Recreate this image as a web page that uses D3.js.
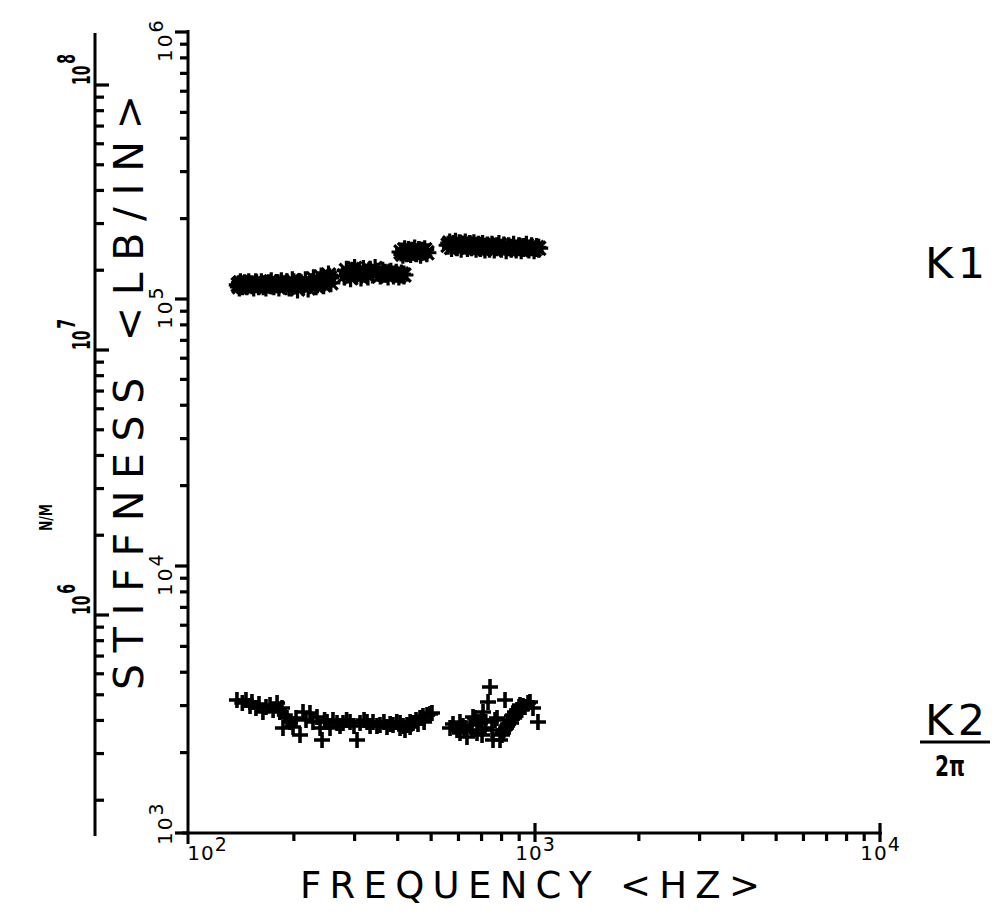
<!DOCTYPE html>
<html><head><meta charset="utf-8">
<script src="https://cdn.jsdelivr.net/npm/d3@7/dist/d3.min.js"></script>
<style>body{margin:0;background:#fff}svg{display:block}</style>
</head><body>
<svg id="chart" width="997" height="920"></svg>
<script>
// ---------- DATA ----------
// K1 stiffness (lb/in) vs frequency (Hz)
const k1Freq = [138,140,142,144,146,148,151,153,156,158,161,164,166,169,172,175,178,181,184,188,191,194,198,201,205,208,212,216,220,224,228,232,236,240,244,248,252,256,
  139,147,155,163,171,180,190,200,210,222,234,246,254,
  280,284,288,292,296,300,304,309,313,318,323,328,333,338,344,350,356,362,368,375,382,389,396,403,410,417,
  409,414,419,424,430,436,442,448,454,460,466,473,479,486,
  560,566,573,580,588,595,603,611,619,628,637,646,655,665,675,685,695,705,716,727,738,750,762,774,786,799,812,825,839,853,867,882,897,912,928,944,960,977,994,1011,1025];
const k1Stiff = [1.13e5,1.15e5,1.12e5,1.14e5,1.12e5,1.15e5,1.13e5,1.11e5,1.14e5,1.12e5,1.15e5,1.13e5,1.11e5,1.14e5,1.16e5,1.12e5,1.14e5,1.11e5,1.16e5,1.13e5,1.15e5,1.11e5,1.17e5,1.13e5,1.09e5,1.15e5,1.12e5,1.17e5,1.10e5,1.14e5,1.19e5,1.12e5,1.16e5,1.21e5,1.13e5,1.18e5,1.23e5,1.15e5,
  1.11e5,1.13e5,1.15e5,1.12e5,1.13e5,1.14e5,1.12e5,1.15e5,1.14e5,1.13e5,1.14e5,1.16e5,1.20e5,
  1.22e5,1.28e5,1.24e5,1.20e5,1.27e5,1.30e5,1.23e5,1.26e5,1.21e5,1.29e5,1.25e5,1.22e5,1.28e5,1.24e5,1.30e5,1.26e5,1.23e5,1.27e5,1.25e5,1.22e5,1.26e5,1.23e5,1.25e5,1.22e5,1.24e5,1.23e5,
  1.50e5,1.47e5,1.53e5,1.49e5,1.52e5,1.48e5,1.51e5,1.54e5,1.49e5,1.52e5,1.47e5,1.51e5,1.53e5,1.49e5,
  1.59e5,1.62e5,1.56e5,1.60e5,1.63e5,1.57e5,1.61e5,1.55e5,1.59e5,1.62e5,1.56e5,1.60e5,1.57e5,1.61e5,1.55e5,1.59e5,1.56e5,1.60e5,1.54e5,1.58e5,1.55e5,1.59e5,1.54e5,1.57e5,1.60e5,1.55e5,1.58e5,1.53e5,1.57e5,1.55e5,1.59e5,1.54e5,1.57e5,1.53e5,1.56e5,1.59e5,1.54e5,1.57e5,1.53e5,1.56e5,1.55e5];

// K2/(2*pi) (lb/in) vs frequency (Hz)
const k2Freq = [136.8,141.8,145.3,149.3,151.2,155.3,158.5,162.7,166.1,170.6,174.1,178.8,182.1,184.8,188.3,191.1,195.0,186.0,198.9,202.9,208.4,212.6,216.9,222.7,227.2,233.4,238.2,241.4,245.5,249.6,254.6,259.7,266.8,272.2,277.7,284.4,291.0,298.7,304.9,311.1,319.5,325.9,332.6,339.2,348.2,355.4,364.8,372.4,380.3,387.7,397.6,406.3,406.3,414.6,420,425.6,434.5,434.5,443.1,452.0,458,464.2,473.5,477,486.4,496.2,502.8,
  567.2,578.5,594.1,606.1,618.4,635.1,648.0,656.9,661.2,679.1,683.8,692.8,702.3,706.9,716.5,730.9,740.7,750.6,755.6,765.8,776.1,791.8,802.4,807.8,818.7,824.2,835.2,846.4,857.8,863.6,875.0,886.9,898.6,904.8,923.1,935.5,954.4,967.2,986.7,1020,
  606,670,625,700,720,812,830,852,870,893,915];
const k2Stiff = [3149,3068,3149,2990,3095,2938,3042,2839,2964,3016,2888,3068,2839,2938,2766,2696,2604,2474,2495,2696,2328,2839,2650,2815,2604,2719,2474,2230,2650,2604,2474,2650,2582,2516,2582,2650,2604,2516,2230,2582,2650,2604,2516,2604,2516,2538,2604,2495,2560,2538,2604,2582,2474,2516,2431,2538,2604,2495,2582,2650,2560,2696,2743,2604,2766,2790,2815,
  2474,2560,2431,2368,2516,2289,2538,2431,2719,2368,2604,2582,2328,2839,2474,3095,3523,2431,2230,2650,2696,2230,2328,2368,3149,2474,2560,2650,2743,2766,2839,2888,2964,3016,2990,2964,3068,3095,2938,2604,
  2604,2696,2474,2650,2604,2431,2516,2582,2696,2815,2888];

// tick label exponents
const xTickExp = [2, 3, 4];        // 10^2 .. 10^4 Hz
const yTickExp = [3, 4, 5, 6];     // 10^3 .. 10^6 lb/in
const nmTickExp = [6, 7, 8];       // 10^6 .. 10^8 N/m

// ---------- CHART ----------
const svg = d3.select("#chart");
const x = d3.scaleLog().domain([1e2, 1e4]).range([190, 880]);
const y = d3.scaleLog().domain([1e3, 1e6]).range([833, 32]);
const yNM = d3.scaleLog().domain([1e6, 1e8]).range([615, 85]);
const pow10 = e => Math.pow(10, e);

function minorTicks(lo, hi) {
  const out = [];
  for (let e = Math.floor(Math.log10(lo)); e <= Math.ceil(Math.log10(hi)); e++) {
    for (let m = 2; m <= 9; m++) { const v = m * pow10(e); if (v >= lo * 0.999 && v <= hi * 1.001) out.push(v); }
  }
  return out;
}
// ticks drawn as small rectangles, positions from the scales
function ticks(scale, vals, fixed, len, vertical, w) {
  svg.append("g").selectAll("rect").data(vals).join("rect")
    .attr("x", d => vertical ? Math.min(fixed, fixed + len) : scale(d) - w / 2)
    .attr("y", d => vertical ? scale(d) - w / 2 : Math.min(fixed, fixed + len))
    .attr("width", vertical ? Math.abs(len) : w)
    .attr("height", vertical ? w : Math.abs(len))
    .attr("fill", "#000");
}
function bar(x1, y1, x2, y2) {
  svg.append("rect").attr("x", x1).attr("y", y1).attr("width", x2 - x1).attr("height", y2 - y1).attr("fill", "#000");
}

// Main Y axis (lb/in)
ticks(y, minorTicks(1e3, 1e6), 188, -8, true, 3.2);
ticks(y, yTickExp.map(pow10), 188, -13, true, 3.2);
bar(186.5, 30, 189.5, 844);

// X axis
ticks(x, minorTicks(1e2, 1e4), 833, 8, false, 3.2);
ticks(x, [1e3, 1e4], 823, 19, false, 3.2);
bar(182, 831.5, 882, 834.5);

// N/M axis
ticks(yNM, minorTicks(1.5e5, 1.55e8), 95, 9, true, 3.2);
ticks(yNM, nmTickExp.map(pow10), 95, 14, true, 3.2);
bar(93.5, 33, 96.5, 836);

const FONT = "'DejaVu Sans', sans-serif";

// Main y tick labels (rotated)
yTickExp.forEach(e => {
  const off = e === 3 ? 12 : 30;
  const t = svg.append("text")
    .attr("transform", `translate(172,${y(pow10(e)) + off}) rotate(-90)`)
    .attr("font-family", FONT).attr("font-size", 20).attr("fill", "#000");
  t.append("tspan").attr("letter-spacing", 2).text("10");
  t.append("tspan").attr("dy", -9).attr("font-size", 19).text(String(e));
});

// N/M tick labels (rotated, bold, condensed)
nmTickExp.forEach(e => {
  const t = svg.append("text")
    .attr("transform", `translate(90,${yNM(pow10(e))}) rotate(-90) scale(0.56,1)`)
    .attr("font-family", FONT).attr("font-weight", "bold").attr("font-size", 25).attr("fill", "#000");
  t.append("tspan").text("10");
  t.append("tspan").attr("dy", -15).attr("dx", 3).text(String(e));
});

// X tick labels
xTickExp.forEach((e, i) => {
  const t = svg.append("text")
    .attr("x", x(pow10(e)) + (i === 0 ? 17 : 0)).attr("y", 860)
    .attr("text-anchor", "middle")
    .attr("font-family", FONT).attr("font-size", 20).attr("fill", "#000");
  t.append("tspan").attr("letter-spacing", 1).text("10");
  t.append("tspan").attr("dy", -9).attr("font-size", 19).text(String(e));
});

// Axis titles
svg.append("text").attr("transform", "translate(143,690) rotate(-90)")
  .attr("font-family", FONT).attr("font-size", 41).attr("fill", "#000")
  .attr("textLength", 595).attr("lengthAdjust", "spacing").text("STIFFNESS <LB/IN>");
svg.append("text").attr("x", 300).attr("y", 898)
  .attr("font-family", FONT).attr("font-size", 37).attr("fill", "#000")
  .attr("textLength", 460).attr("lengthAdjust", "spacing").text("FREQUENCY <HZ>");
svg.append("text").attr("transform", "translate(52,531) rotate(-90)")
  .attr("font-family", FONT).attr("font-weight", "bold").attr("font-size", 17).attr("fill", "#000")
  .attr("textLength", 27).attr("lengthAdjust", "spacingAndGlyphs").text("N/M");

// Series labels
svg.append("text").attr("x", 925).attr("y", 278).attr("font-family", FONT).attr("font-size", 43)
  .attr("textLength", 60).attr("lengthAdjust", "spacing").text("K1");
svg.append("text").attr("x", 925).attr("y", 735).attr("font-family", FONT).attr("font-size", 43)
  .attr("textLength", 60).attr("lengthAdjust", "spacing").text("K2");
bar(920, 740.5, 990, 743.5);
svg.append("text").attr("x", 935).attr("y", 776).attr("font-family", FONT).attr("font-weight", "bold").attr("font-size", 28)
  .attr("textLength", 30).attr("lengthAdjust", "spacingAndGlyphs").text("2π");

// Markers
function asterisk(cx, cy, r) {
  const p = d3.path(), d = r * 0.72;
  p.moveTo(cx - r, cy); p.lineTo(cx + r, cy);
  p.moveTo(cx, cy - r); p.lineTo(cx, cy + r);
  p.moveTo(cx - d, cy - d); p.lineTo(cx + d, cy + d);
  p.moveTo(cx - d, cy + d); p.lineTo(cx + d, cy - d);
  return p.toString();
}
function plus(cx, cy, r) {
  const p = d3.path();
  p.moveTo(cx - r, cy); p.lineTo(cx + r, cy);
  p.moveTo(cx, cy - r); p.lineTo(cx, cy + r);
  return p.toString();
}
const k1Data = k1Freq.map((f, i) => ({ f, v: k1Stiff[i] }));
const k2Data = k2Freq.map((f, i) => ({ f, v: k2Stiff[i] }));

svg.append("g").selectAll("path").data(k1Data).join("path")
  .attr("d", d => asterisk(x(d.f), y(d.v), 9.5))
  .attr("stroke", "#000").attr("stroke-width", 3.2).attr("fill", "none");
svg.append("g").selectAll("path").data(k2Data).join("path")
  .attr("d", d => plus(x(d.f), y(d.v), 8))
  .attr("stroke", "#000").attr("stroke-width", 3.6).attr("fill", "none");
</script>
</body></html>
